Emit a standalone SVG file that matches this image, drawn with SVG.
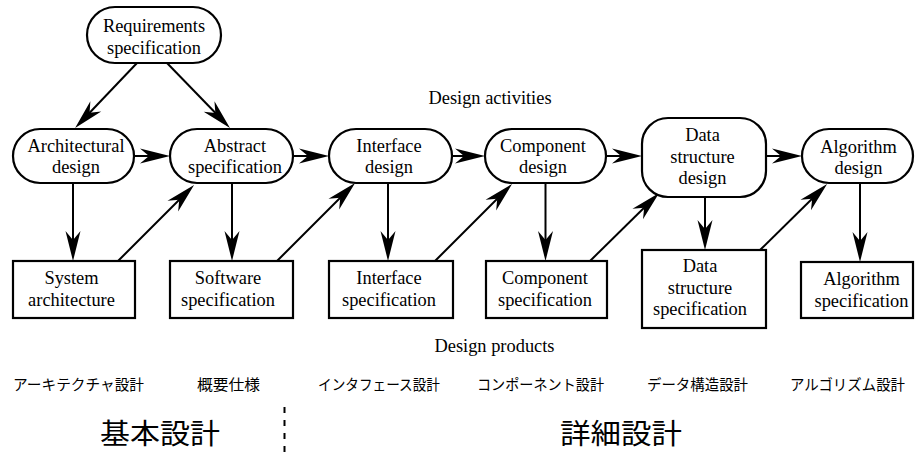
<svg xmlns="http://www.w3.org/2000/svg" width="915" height="452" viewBox="0 0 915 452">
  <defs>
    <style>
      .act { fill: #fff; stroke: #000; stroke-width: 2.2; }
      .prod { fill: #fff; stroke: #000; stroke-width: 2.2; }
      .lbl { font-family: 'Liberation Serif', 'DejaVu Serif', 'Noto Serif', 'Times New Roman', serif; font-size: 18.4px; fill: #000; text-anchor: middle; }
      .jp { font-family: 'Noto Sans CJK JP', 'Noto Sans', sans-serif; fill: #000; }
      .edge { fill: none; stroke: #000; stroke-width: 2; marker-end: url(#head); }
    </style>
    <!-- barbed arrowhead: tip 10 units past the line end -->
    <marker id="head" viewBox="-22 -9 33 18" markerWidth="33" markerHeight="18" refX="0" refY="0" orient="auto" markerUnits="userSpaceOnUse">
      <path d="M10,0 L-20,-7.5 L-11,0 L-20,7.5 Z" fill="#000"/>
    </marker>
  </defs>

  <rect width="915" height="452" fill="#fff"/>

  <!-- connectors -->
  <g id="connectors">
    <line class="edge" x1="137" y1="63" x2="82" y2="120.8"/>
    <line class="edge" x1="167" y1="63" x2="223" y2="120.8"/>

    <line class="edge" x1="134" y1="156" x2="160" y2="156"/>
    <line class="edge" x1="293" y1="156" x2="319" y2="156"/>
    <line class="edge" x1="452" y1="156" x2="475" y2="156"/>
    <line class="edge" x1="606" y1="156" x2="632" y2="156"/>
    <line class="edge" x1="766" y1="156" x2="792" y2="156"/>

    <line class="edge" x1="73" y1="183" x2="73" y2="251"/>
    <line class="edge" x1="232" y1="183" x2="232" y2="251"/>
    <line class="edge" x1="388" y1="183" x2="388" y2="251"/>
    <line class="edge" x1="545.5" y1="183" x2="545.5" y2="251"/>
    <line class="edge" x1="705" y1="197" x2="705" y2="240"/>
    <line class="edge" x1="860" y1="183" x2="860" y2="252"/>

    <line class="edge" x1="118" y1="261" x2="187" y2="192"/>
    <line class="edge" x1="277" y1="261" x2="348" y2="190"/>
    <line class="edge" x1="435" y1="261" x2="505" y2="191"/>
    <line class="edge" x1="590" y1="261" x2="652" y2="200"/>
    <line class="edge" x1="760" y1="250" x2="820" y2="191"/>
  </g>

  <!-- design activities -->
  <g id="requirements-specification">
    <rect class="act" x="87" y="7" width="134" height="56" rx="28"/>
    <text class="lbl" x="154" y="32">Requirements</text>
    <text class="lbl" x="154" y="54">specification</text>
  </g>
  <g id="architectural-design">
    <rect class="act" x="13" y="129" width="121" height="54" rx="27"/>
    <text class="lbl" x="76" y="152">Architectural</text>
    <text class="lbl" x="76" y="173">design</text>
  </g>
  <g id="abstract-specification">
    <rect class="act" x="170" y="129" width="123" height="54" rx="27"/>
    <text class="lbl" x="235" y="152">Abstract</text>
    <text class="lbl" x="235" y="173">specification</text>
  </g>
  <g id="interface-design">
    <rect class="act" x="329" y="129" width="123" height="54" rx="27"/>
    <text class="lbl" x="389" y="152">Interface</text>
    <text class="lbl" x="389" y="173">design</text>
  </g>
  <g id="component-design">
    <rect class="act" x="485" y="129" width="121" height="54" rx="27"/>
    <text class="lbl" x="543" y="152">Component</text>
    <text class="lbl" x="543" y="173">design</text>
  </g>
  <g id="data-structure-design">
    <rect class="act" x="642" y="118" width="124" height="79" rx="26"/>
    <text class="lbl" x="702.5" y="141">Data</text>
    <text class="lbl" x="702.5" y="162.5">structure</text>
    <text class="lbl" x="702.5" y="184">design</text>
  </g>
  <g id="algorithm-design">
    <rect class="act" x="802" y="129" width="111" height="54" rx="27"/>
    <text class="lbl" x="858.5" y="152.5">Algorithm</text>
    <text class="lbl" x="858.5" y="173.5">design</text>
  </g>

  <!-- design products -->
  <g id="system-architecture">
    <rect class="prod" x="13" y="261" width="122" height="57"/>
    <text class="lbl" x="71.5" y="284">System</text>
    <text class="lbl" x="71.5" y="305.5">architecture</text>
  </g>
  <g id="software-specification">
    <rect class="prod" x="170" y="261" width="123" height="57"/>
    <text class="lbl" x="228" y="284">Software</text>
    <text class="lbl" x="228" y="305.5">specification</text>
  </g>
  <g id="interface-specification">
    <rect class="prod" x="329" y="261" width="124" height="57"/>
    <text class="lbl" x="389" y="284">Interface</text>
    <text class="lbl" x="389" y="305.5">specification</text>
  </g>
  <g id="component-specification">
    <rect class="prod" x="486" y="261" width="121" height="57"/>
    <text class="lbl" x="545" y="284">Component</text>
    <text class="lbl" x="545" y="305.5">specification</text>
  </g>
  <g id="data-structure-specification">
    <rect class="prod" x="642" y="250" width="124" height="78"/>
    <text class="lbl" x="700" y="272">Data</text>
    <text class="lbl" x="700" y="293.5">structure</text>
    <text class="lbl" x="700" y="315">specification</text>
  </g>
  <g id="algorithm-specification">
    <rect class="prod" x="801" y="262" width="112" height="56"/>
    <text class="lbl" x="861.5" y="285">Algorithm</text>
    <text class="lbl" x="861.5" y="306.5">specification</text>
  </g>

  <!-- row captions -->
  <text class="lbl" x="490" y="104">Design activities</text>
  <text class="lbl" x="494.5" y="352">Design products</text>

  <!-- Japanese phase names -->
  <g id="phase-names">
    <text class="jp" x="13" y="390" font-size="15" textLength="131" lengthAdjust="spacingAndGlyphs">アーキテクチャ設計</text>
    <text class="jp" x="197" y="390" font-size="15" textLength="63" lengthAdjust="spacingAndGlyphs">概要仕様</text>
    <text class="jp" x="318" y="390" font-size="15" textLength="122" lengthAdjust="spacingAndGlyphs">インタフェース設計</text>
    <text class="jp" x="477" y="390" font-size="15" textLength="127" lengthAdjust="spacingAndGlyphs">コンポーネント設計</text>
    <text class="jp" x="647" y="390" font-size="15" textLength="101" lengthAdjust="spacingAndGlyphs">データ構造設計</text>
    <text class="jp" x="790" y="390" font-size="15" textLength="115" lengthAdjust="spacingAndGlyphs">アルゴリズム設計</text>
  </g>

  <!-- basic / detailed design split -->
  <line x1="284.5" y1="407" x2="284.5" y2="452" stroke="#000" stroke-width="2" stroke-dasharray="6 7"/>
  <text class="jp" x="100" y="443.5" font-size="28" textLength="120" lengthAdjust="spacingAndGlyphs">基本設計</text>
  <text class="jp" x="560" y="443.5" font-size="28" textLength="122" lengthAdjust="spacingAndGlyphs">詳細設計</text>
</svg>
